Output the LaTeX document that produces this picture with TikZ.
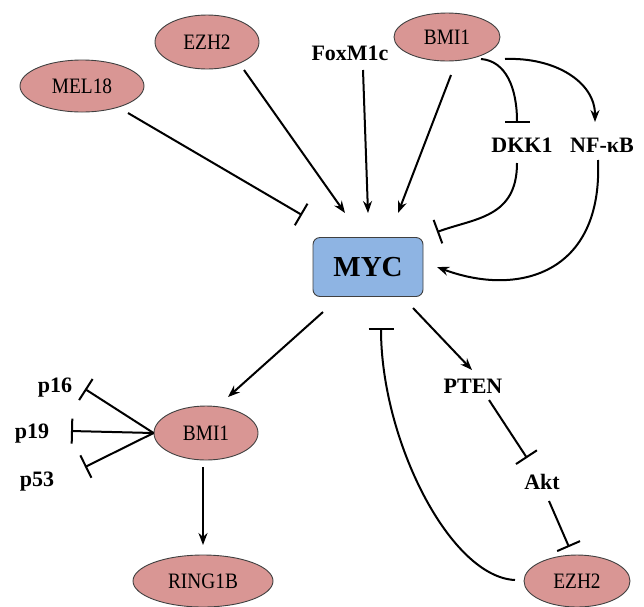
\documentclass[tikz,border=0pt]{standalone}
\usepackage{fontspec}
\setmainfont{Liberation Serif}
\newfontfamily\protfont[FakeStretch=0.88]{Liberation Serif}
\usepackage{tikz}
\usetikzlibrary{arrows.meta}
\usetikzlibrary{shapes.geometric}

\definecolor{protpink}{RGB}{217,150,148}
\definecolor{mycblue}{RGB}{142,180,227}
\definecolor{rim}{RGB}{64,64,64}

\begin{document}
\begin{tikzpicture}[x=1pt, y=-1pt,
  prot/.style={ellipse, draw=rim, fill=protpink, line width=0.9pt, inner sep=0pt,
    font=\protfont\fontsize{22}{24}\selectfont},
  lbl/.style={inner sep=0pt, font=\fontsize{22}{24}\selectfont\bfseries},
  act/.style={line width=2pt, -{Stealth[length=12pt,width=9pt]}},
  inh/.style={line width=2pt, -{Bar[width=25pt]}}]
  \useasboundingbox (0,0) rectangle (644,606);

  % upstream of MYC
  \node[prot, minimum width=124pt, minimum height=52pt] (mel) at (82,86) {MEL18};
  \node[prot, minimum width=104pt, minimum height=54pt] (ezhA) at (207,42) {EZH2};
  \node[lbl] (fox) at (350,53) {FoxM1c};
  \node[prot, minimum width=106pt, minimum height=48pt] (bmiA) at (447,37) {BMI1};
  \node[lbl] (dkk) at (522,145) {DKK1};
  \node[lbl] (nfkb) at (602,145) {NF-κB};

  % the hub
  \node[draw=rim, fill=mycblue, line width=0.9pt, rounded corners=7pt,
    minimum width=110pt, minimum height=59pt,
    font=\fontsize{29}{31}\selectfont\bfseries] (myc) at (368,267) {MYC};

  % downstream of MYC
  \node[prot, minimum width=104pt, minimum height=54pt] (bmiB) at (206,433) {BMI1};
  \node[lbl] (p16) at (55,388) {p16};
  \node[lbl] (p19) at (32,434) {p19};
  \node[lbl] (p53) at (37,482) {p53};
  \node[prot, minimum width=140pt, minimum height=52pt] (ring) at (203,581) {RING1B};
  \node[lbl] (pten) at (473,386) {PTEN};
  \node[lbl] (akt) at (542,482) {Akt};
  \node[prot, minimum width=106pt, minimum height=52pt] (ezhB) at (577,581) {EZH2};

  % into MYC
  \draw[inh] ([shift={(46,27)}]mel.center) -- ([shift={(-66,-52)}]myc.center);
  \draw[act] ([shift={(37,28)}]ezhA.center) -- ([shift={(-23,-54)}]myc.center);
  \draw[act] ([shift={(13,17)}]fox.center) -- ([shift={(0,-54)}]myc.center);
  \draw[act] ([shift={(4,38)}]bmiA.center) -- ([shift={(30,-54)}]myc.center);
  \draw[inh] ([shift={(34,22)}]bmiA.center) .. controls +(25,2) and +(0,-35) .. ([shift={(-5,-22)}]dkk.center);
  \draw[act] ([shift={(58,22)}]bmiA.center) .. controls +(50,-2) and +(0,-40) .. ([shift={(-7,-23)}]nfkb.center);
  \draw[inh] ([shift={(-5,18)}]dkk.center) .. controls +(0,55) and +(38,-14) .. ([shift={(69,-35)}]myc.center);
  \draw[act] ([shift={(-4,15)}]nfkb.center) .. controls +(5,115) and +(80,30) .. ([shift={(69,0)}]myc.center);

  % out of MYC
  \draw[act] ([shift={(-45,45)}]myc.center) -- ([shift={(22,-36)}]bmiB.center);
  \draw[act] ([shift={(45,41)}]myc.center) -- ([shift={(-1,-16)}]pten.center);
  \draw[inh] ([shift={(16,14)}]pten.center) -- ([shift={(-15,-24)}]akt.center);
  \draw[inh] ([shift={(7,19)}]akt.center) -- ([shift={(-8,-34)}]ezhB.center);
  \draw[inh] ([shift={(-62,-1)}]ezhB.center) .. controls +(-65,-3) and +(0,112) .. ([shift={(13,61)}]myc.center);

  % BMI1 targets
  \draw[inh] (bmiB.west) -- ([shift={(30,1)}]p16.center);
  \draw[inh] (bmiB.west) -- ([shift={(39,-3)}]p19.center);
  \draw[inh] (bmiB.west) -- ([shift={(48,-15)}]p53.center);
  \draw[act] ([shift={(-3,34)}]bmiB.center) -- ([shift={(0,-36)}]ring.center);
\end{tikzpicture}
\end{document}
